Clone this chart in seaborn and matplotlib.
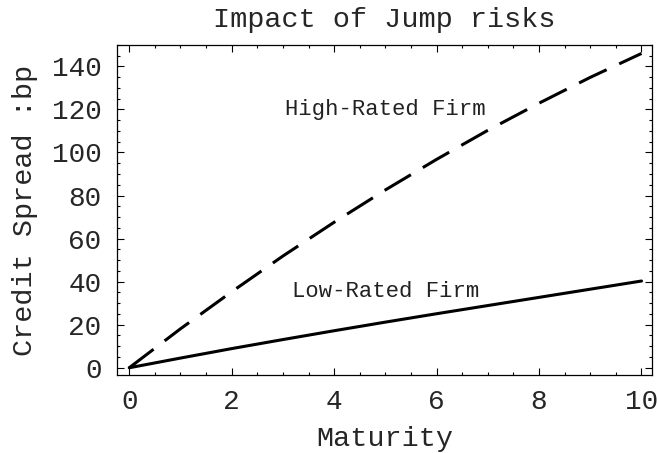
import numpy as np
import pandas as pd
import matplotlib
matplotlib.use('Agg')
import matplotlib.pyplot as plt
from matplotlib.ticker import MultipleLocator
import seaborn as sns

# values
maturity = [0, 1, 2, 3, 4, 5, 6, 7, 8, 9, 10]
high_rated = [0, 18.1, 35.3, 51.9, 67.6, 82.6, 96.8, 110.3, 122.9, 134.9, 146.0]
low_rated = [0, 4.5, 8.9, 13.1, 17.2, 21.2, 25.1, 28.9, 32.7, 36.5, 40.3]

df = pd.DataFrame({'Maturity': maturity, 'High': high_rated, 'Low': low_rated})

sns.set_theme(style='white')
plt.rcParams['font.family'] = ['Liberation Mono', 'DejaVu Sans Mono']
plt.rcParams['lines.scale_dashes'] = False

fig, ax = plt.subplots(figsize=(6.57, 4.53), dpi=100)
fig.subplots_adjust(left=0.178, right=0.992, top=0.901, bottom=0.172)

sns.lineplot(data=df, x='Maturity', y='High', ax=ax, color='black',
             linewidth=2.2)
sns.lineplot(data=df, x='Maturity', y='Low', ax=ax, color='black',
             linewidth=2.2)
# high-rated curve is dashed in the original
ax.lines[0].set_dashes((22, 10))
ax.lines[0].set_dash_capstyle('butt')

ax.text(5, 120, 'High-Rated Firm', ha='center', va='center', fontsize=16, color='#222222')
ax.text(5, 35.3, 'Low-Rated Firm', ha='center', va='center', fontsize=16, color='#222222')

ax.set_xlim(-0.24, 10.2)
ax.set_ylim(-3.4, 150)
ax.xaxis.set_major_locator(MultipleLocator(2))
ax.xaxis.set_minor_locator(MultipleLocator(0.5))
ax.yaxis.set_major_locator(MultipleLocator(20))
ax.yaxis.set_minor_locator(MultipleLocator(5))
ax.tick_params(which='both', direction='in', top=True, right=True,
               bottom=True, left=True, color='black', width=0.8)
ax.tick_params(which='major', length=5, labelsize=20)
ax.tick_params(which='minor', length=2.5)
ax.tick_params(axis='x', which='major', pad=10)
ax.tick_params(axis='y', which='major', pad=11)

for sp in ax.spines.values():
    sp.set_color('black')
    sp.set_linewidth(0.9)

ax.set_title('Impact of Jump risks', fontsize=20.5, pad=13)
ax.set_xlabel('Maturity', fontsize=20.5, labelpad=8)
ax.set_ylabel('Credit Spread :bp', fontsize=20.5, labelpad=10)

plt.savefig('out.png', dpi=100)
